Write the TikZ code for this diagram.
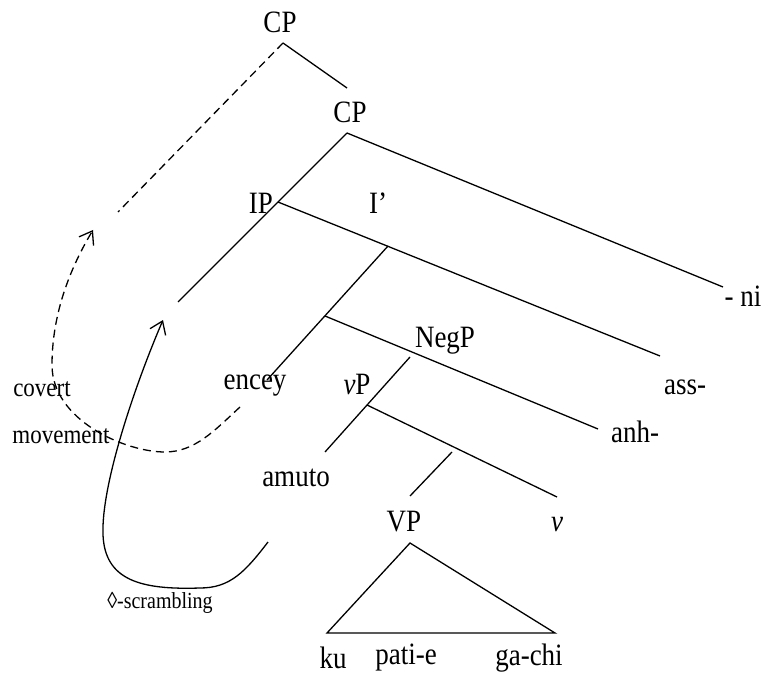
\documentclass[tikz,border=0pt]{standalone}
\usepackage{fontspec}
\setmainfont{Liberation Serif}
\usetikzlibrary{arrows.meta}
\newcommand\tallt[1]{\scalebox{1}[1.15]{#1}}
\begin{document}
\begin{tikzpicture}[x=1pt,y=-1pt,
  lbl/.style={inner sep=0pt, font=\fontsize{27}{30}\selectfont},
  small/.style={inner sep=0pt, font=\fontsize{23}{26}\selectfont},
  tiny/.style={inner sep=0pt, font=\fontsize{20}{24}\selectfont},
  edge/.style={line width=1.3pt},
  dsh/.style={line width=1.3pt, dash pattern=on 8pt off 5pt},
  arr/.style={-{Straight Barb[length=12pt,width=17pt]}}]
\useasboundingbox (0,0) rectangle (765,676);
% labels
\node[lbl] (cp1) at (280,22) {\tallt{CP}};
\node[lbl] (cp2) at (350,112) {\tallt{CP}};
\node[lbl] (ip) at (261,203) {\tallt{IP}};
\node[lbl] (ibar) at (378,203) {\tallt{I’}};
\node[lbl] (ni) at (743,296) {\tallt{- ni}};
\node[lbl] (ass) at (685,387) {\tallt{ass-}};
\node[lbl] (negp) at (445,341) {\tallt{NegP}};
\node[lbl] (encey) at (255,386) {\tallt{encey}};
\node[lbl] (vp) at (357,384) {\tallt{\textit{v}P}};
\node[lbl] (anh) at (635,432) {\tallt{anh-}};
\node[lbl] (amuto) at (296,478) {\tallt{amuto}};
\node[lbl] (VP) at (404,522) {\tallt{VP}};
\node[lbl] (v) at (557,525) {\tallt{\textit{v}}};
\node[lbl] (ku) at (333,658) {\tallt{ku}};
\node[lbl] (patie) at (406,658) {\tallt{pati-e}};
\node[lbl] (gachi) at (529,658) {\tallt{ga-chi}};
\node[small] (covert) at (42,389) {\tallt{covert}};
\node[small] (movement) at (61,436) {\tallt{movement}};
\node[tiny] (scr) at (160,603) {\tallt{◊-scrambling}};
% branch coordinates
\coordinate (a) at (283,43);
\coordinate (b) at (347,88);
\coordinate (dend) at (118,212);
\coordinate (c) at (347,133);
\coordinate (cl) at (178,302);
\coordinate (cr) at (723,287);
\coordinate (d) at (278,202);
\coordinate (dr) at (660,356);
\coordinate (f) at (388,246);
\coordinate (fl) at (267,380);
\coordinate (g) at (325,316);
\coordinate (gr) at (598,429);
\coordinate (h) at (410,357);
\coordinate (hl) at (325,452);
\coordinate (i) at (367,405);
\coordinate (ir) at (557,497);
\coordinate (j) at (452,452);
\coordinate (jl) at (410,496);
\coordinate (t1) at (410,543);
\coordinate (t2) at (327,633);
\coordinate (t3) at (555,633);
% tree
\draw[edge] (a) -- (b);
\draw[dsh] (a) -- (dend);
\draw[edge] (c) -- (cl);
\draw[edge] (c) -- (cr);
\draw[edge] (d) -- (dr);
\draw[edge] (f) -- (fl);
\draw[edge] (g) -- (gr);
\draw[edge] (h) -- (hl);
\draw[edge] (i) -- (ir);
\draw[edge] (j) -- (jl);
\draw[edge] (t1) -- (t2) -- (t3) -- cycle;
% movement arrows
\coordinate (m0) at (240,407);
\coordinate (m1) at (165,452);
\coordinate (m2) at (52,365);
\coordinate (m3) at (93,230);
\draw[dsh,arr] (m0) .. controls (215,430) and (195,452) .. (m1)
  .. controls (125,452) and (52,420) .. (m2)
  .. controls (52,320) and (66,275) .. (m3);
\coordinate (s0) at (268,542);
\coordinate (s1) at (200,588);
\coordinate (s2) at (103,535);
\coordinate (s3) at (163,320);
\draw[edge,arr] (s0) .. controls (245,572) and (230,588) .. (s1)
  .. controls (140,590) and (105,580) .. (s2)
  .. controls (101,485) and (135,385) .. (s3);
\end{tikzpicture}
\end{document}
